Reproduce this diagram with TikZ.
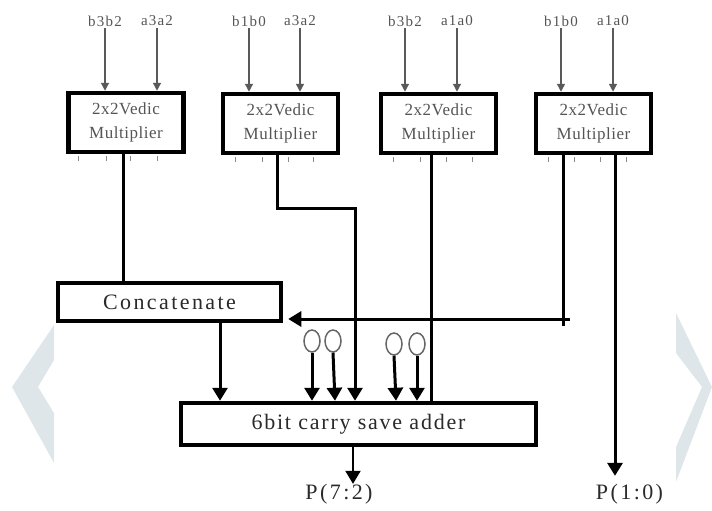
\documentclass[tikz,border=0pt]{standalone}
\usepackage{fontspec}
\setmainfont{Liberation Serif}
\newfontfamily\spwide[LetterSpace=11]{Liberation Serif}
\newfontfamily\spadder[LetterSpace=8]{Liberation Serif}
\newfontfamily\spnarrow[LetterSpace=3]{Liberation Serif}
\newfontfamily\spinput[LetterSpace=8]{Liberation Serif}
\usetikzlibrary{arrows.meta,shapes.geometric}
\definecolor{chev}{HTML}{DFE6EA}
\definecolor{txtg}{HTML}{555555}
\definecolor{txtd}{HTML}{2A2A2A}
\tikzset{
  x=1pt,y=-1pt,
  mult/.style={draw=black,line width=4.5pt,fill=white,minimum width=115pt,minimum height=59pt,inner sep=0pt,align=center,font=\spnarrow\fontsize{17}{24}\selectfont,text=txtg},
  widebox/.style={draw=black,line width=4.5pt,fill=white,inner sep=0pt,font=\spwide\fontsize{22}{24}\selectfont,text=txtd},
  inlabel/.style={font=\spinput\fontsize{15}{16}\selectfont,text=txtg,inner sep=0pt,minimum height=14pt},
  inarrow/.style={draw=black!65,line width=1.4pt,-{Triangle[length=8pt,width=8pt]}},
  wire/.style={draw=black,line width=3pt,line join=miter},
  wirearrow/.style={wire,-{Triangle[length=13pt,width=15pt]}},
  zero/.style={draw=black!60,line width=1.5pt,ellipse,minimum width=16pt,minimum height=22pt,inner sep=0pt},
  tickmark/.style={draw=black!45,line width=1pt},
  outlabel/.style={font=\spwide\fontsize{22}{24}\selectfont,text=txtd,inner sep=0pt}
}
\begin{document}
\begin{tikzpicture}
\useasboundingbox (0,0) rectangle (712,511);
% background chevrons
\fill[chev] (54,325) -- (12,387) -- (54,463) -- (54,413) -- (38,387) -- (54,360) -- cycle;
\fill[chev] (676,313) -- (712,387) -- (676,482) -- (676,447) -- (702,387) -- (676,353) -- cycle;
% multipliers
\node[mult] (m1) at (126,122.5) {2x2Vedic\\Multiplier};
\node[mult] (m2) at (280.5,123.5) {2x2Vedic\\Multiplier};
\node[mult] (m3) at (438.5,123.5) {2x2Vedic\\Multiplier};
\node[mult] (m4) at (593.5,123.5) {2x2Vedic\\Multiplier};
% ticks
\foreach \m/\a/\b/\c/\d in {m1/78/106/130/157, m2/235/262/288/313, m3/393/420/446/472, m4/548/574/600/626}{
  \foreach \t in {\a,\b,\c,\d}{\draw[tickmark] (\m.south -| \t,0) ++(0,2) -- ++(0,5);}
}
% large boxes
\node[widebox,minimum width=223pt,minimum height=38pt] (conc) at (169.5,302) {Concatenate};
\node[widebox,font=\spadder\fontsize{22}{24}\selectfont,minimum width=355pt,minimum height=42pt] (csa) at (358.5,424) {6bit carry save adder};
% inputs
\node[inlabel] (l1) at (105,21) {b3b2};
\node[inlabel] (l2) at (157,21) {a3a2};
\node[inlabel] (l3) at (249,21) {b1b0};
\node[inlabel] (l4) at (300,21) {a3a2};
\node[inlabel] (l5) at (405,21) {b3b2};
\node[inlabel] (l6) at (457,21) {a1a0};
\node[inlabel] (l7) at (561,21) {b1b0};
\node[inlabel] (l8) at (613,21) {a1a0};
\draw[inarrow] (l1.south) -- (l1.south |- m1.north);
\draw[inarrow] (l2.south) -- (l2.south |- m1.north);
\draw[inarrow] (l3.south) -- (l3.south |- m2.north);
\draw[inarrow] (l4.south) -- (l4.south |- m2.north);
\draw[inarrow] (l5.south) -- (l5.south |- m3.north);
\draw[inarrow] (l6.south) -- (l6.south |- m3.north);
\draw[inarrow] (l7.south) -- (l7.south |- m4.north);
\draw[inarrow] (l8.south) -- (l8.south |- m4.north);
% outputs and zeros
\node[outlabel] (p72) at (339,494) {P(7:2)};
\node[outlabel] (p10) at (629.5,494) {P(1:0)};
\node[zero] (z1) at (312,341) {};
\node[zero] (z2) at (333,341) {};
\node[zero] (z3) at (394,344) {};
\node[zero] (z4) at (417,344) {};
% helper coordinates
\coordinate (c1) at (123,0);
\coordinate (c2) at (277,208);
\coordinate (c3) at (355,208);
\coordinate (c4) at (431,0);
\coordinate (c5) at (563,319);
\coordinate (c6) at (615,0);
\coordinate (c7) at (220,0);
\coordinate (c8) at (353,0);
% wires
\draw[wire] (m1.south -| c1) -- (conc.north -| c1);
\draw[wirearrow] (m2.south -| c2) -- (c2) -- (c3) -- (csa.north -| c3);
\draw[wire] (m3.south -| c4) -- (csa.north -| c4);
\draw[wire] (m4.south -| c5) -- ([yshift=-7pt]c5);
\draw[wirearrow,shorten >=5pt] ([xshift=7pt]c5) -- (c5 -| conc.east);
\draw[wirearrow,shorten >=8pt] (m4.south -| c6) -- (c6 |- p10.north);
\draw[wirearrow] (conc.south -| c7) -- (csa.north -| c7);
\draw[wirearrow] (z1.south) -- (z1.south |- csa.north);
\draw[wirearrow] (z2.south) -- ([xshift=2pt]z2.south |- csa.north);
\draw[wirearrow] (z3.south) -- ([xshift=2pt]z3.south |- csa.north);
\draw[wirearrow] (z4.south) -- (z4.south |- csa.north);
\draw[wirearrow,line width=2pt] (csa.south -| c8) -- (c8 |- p72.north);
\end{tikzpicture}
\end{document}
